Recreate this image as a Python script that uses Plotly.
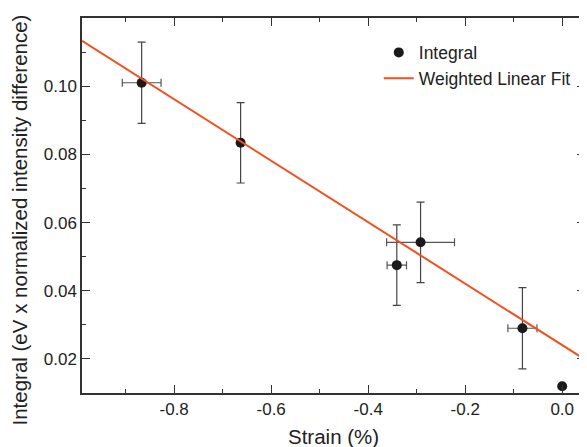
import plotly.graph_objects as go

# Data
strain = [-0.867, -0.663, -0.341, -0.292, -0.082, 0.0]
integral = [0.1010, 0.0834, 0.0475, 0.0542, 0.0290, 0.0120]
integral_err = [0.0119, 0.0118, 0.0118, 0.0118, 0.0119, 0.0]
strain_err = [0.040, 0.005, 0.020, 0.070, 0.030, 0.0]

fit_x = [-0.99, 0.047]
fit_y = [0.1133, 0.0198]

x_ticks = [-0.8, -0.6, -0.4, -0.2, 0.0]
x_ticklabels = ["-0.8", "-0.6", "-0.4", "-0.2", "0.0"]
y_ticks = [0.02, 0.04, 0.06, 0.08, 0.10]
y_ticklabels = ["0.02", "0.04", "0.06", "0.08", "0.10"]

x_title = "Strain (%)"
y_title = "Integral (eV x normalized intensity difference)"

FONT = "Liberation Sans, Arial, sans-serif"
TXT = "#222222"
AX = "#333333"

fig = go.Figure()

fig.add_trace(go.Scatter(
    x=strain, y=integral, mode="markers", name="Integral",
    marker=dict(color="#1a1a1a", size=10),
    error_y=dict(type="data", array=integral_err, visible=True,
                 color="#444444", thickness=1.2, width=4),
    error_x=dict(type="data", array=strain_err, visible=True,
                 color="#555555", thickness=1.2, width=4),
    cliponaxis=False,
))

fig.add_trace(go.Scatter(
    x=fit_x, y=fit_y, mode="lines", name="Weighted Linear Fit",
    line=dict(color="#F2501E", width=2),
))

axis_common = dict(
    showline=True, linecolor=AX, linewidth=1.5, mirror="ticks",
    ticks="inside", ticklen=8, tickwidth=1.3, tickcolor=AX,
    showgrid=False, zeroline=False, automargin=False,
    tickfont=dict(family=FONT, size=17, color=TXT),
)

fig.update_xaxes(
    range=[-0.99, 0.047], tickvals=x_ticks, ticktext=x_ticklabels,
    minor=dict(ticks="inside", ticklen=4, tickwidth=1.2, tickcolor=AX, dtick=0.1, tick0=0),
    **axis_common,
)
fig.update_yaxes(
    range=[0.010, 0.120], tickvals=y_ticks, ticktext=y_ticklabels,
    minor=dict(ticks="inside", ticklen=4, tickwidth=1.2, tickcolor=AX, dtick=0.01, tick0=0),
    **axis_common,
)

# Axis titles as annotations for precise placement
fig.add_annotation(text=x_title, xref="paper", yref="paper", x=0.5, y=-0.117,
                   xanchor="center", yanchor="middle", showarrow=False,
                   font=dict(family=FONT, size=20.5, color=TXT))
fig.add_annotation(text=y_title, xref="paper", yref="paper", x=-0.1252, y=0.46,
                   xanchor="center", yanchor="middle", showarrow=False, textangle=-90,
                   font=dict(family=FONT, size=20.5, color=TXT))

# The page body adds an 8px offset, so the figure is sized/margined to compensate
fig.update_layout(
    width=579, height=439,
    margin=dict(l=74, r=2, t=10, b=54),
    paper_bgcolor="white", plot_bgcolor="white",
    font=dict(family=FONT, color=TXT),
    legend=dict(x=0.590, y=0.956, xanchor="left", yanchor="top",
                bgcolor="rgba(0,0,0,0)", font=dict(family=FONT, size=17.5, color=TXT),
                tracegroupgap=0, itemwidth=30),
    showlegend=True,
)

fig.write_html("out.html")
